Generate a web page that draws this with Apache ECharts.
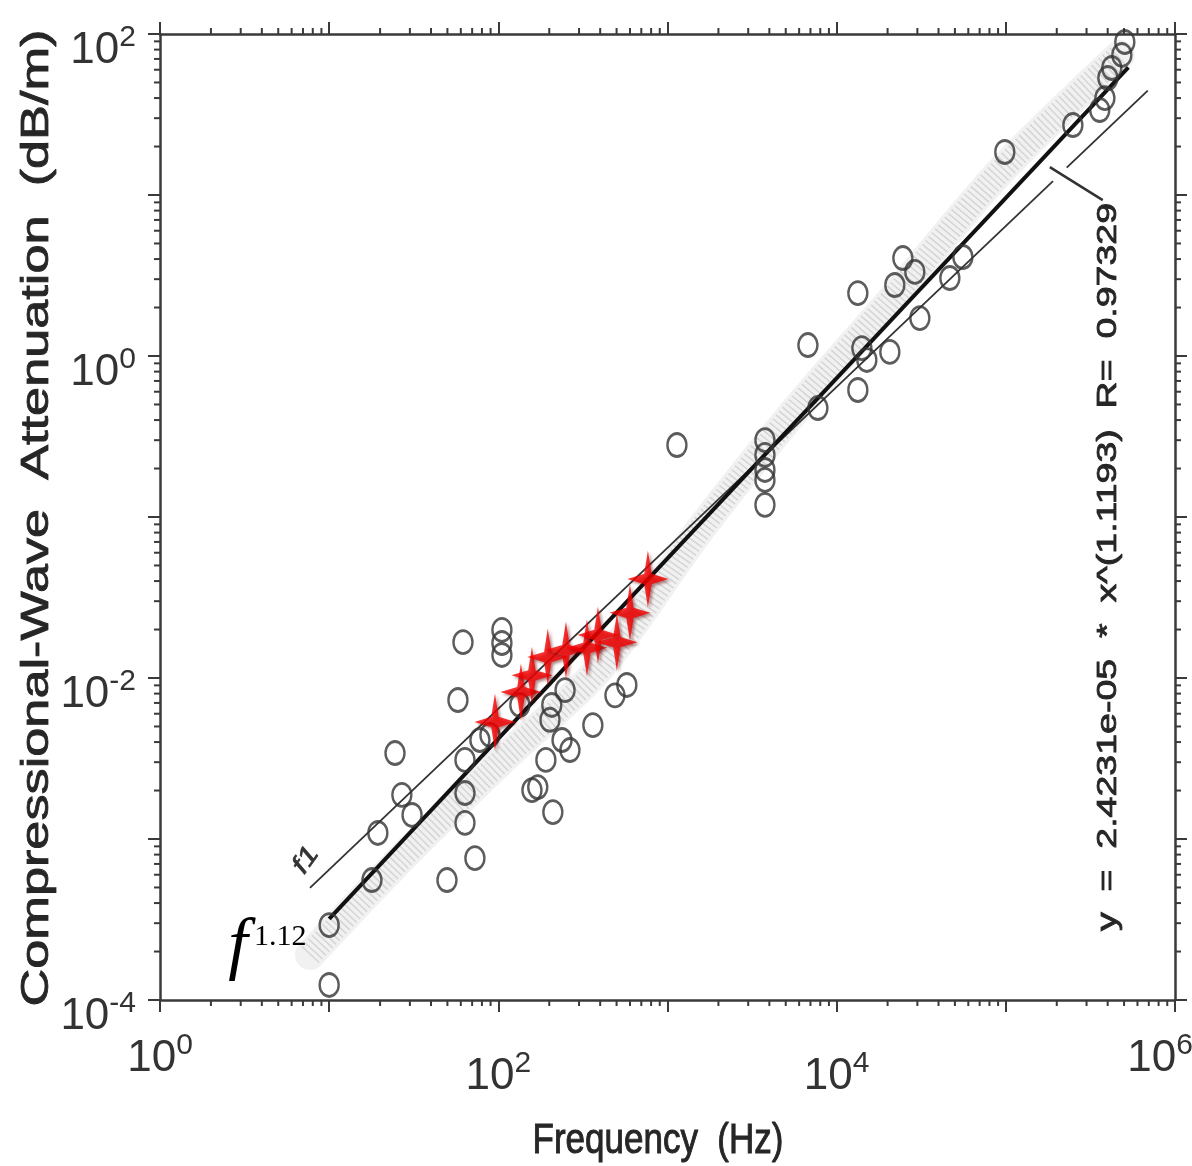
<!DOCTYPE html>
<html>
<head>
<meta charset="utf-8">
<script src="https://cdn.jsdelivr.net/npm/echarts@6/dist/echarts.min.js"></script>
<style>
html,body{margin:0;padding:0;background:#fff;}
#chart{width:1192px;height:1166px;}
</style>
</head>
<body>
<div id="chart"></div>
<script>
// ---- data ----
const circleFreq = [10, 10, 17.9, 19.4, 24.5, 26.9, 30.9, 49.7, 61.8, 57.7, 63.5, 63.5, 63.5, 72.7, 77.8, 89.2,
  105, 105, 105, 134, 158, 171, 191, 202, 207, 210, 238, 248, 265, 362, 489, 575, 1137,
  3767, 3767, 3767, 3767, 3767, 6761, 7743, 13340, 13340, 14090, 15080, 20620, 22070, 24620, 28970, 31030,
  46670, 55720, 98600, 249000, 359000, 385000, 401000, 423000, 485000, 505000];
const circleAtten = [2.92e-4, 1.24e-4, 5.56e-4, 1.09e-3, 3.42e-3, 1.88e-3, 1.41e-3, 5.56e-4, 1.67e-2, 7.3e-3, 3.1e-3, 1.93e-3, 1.26e-3, 7.6e-4, 4.12e-3, 4.43e-3,
  1.99e-2, 1.65e-2, 1.39e-2, 6.8e-3, 2.01e-3, 2.1e-3, 3.1e-3, 5.5e-3, 6.8e-3, 1.47e-3, 4.12e-3, 8.4e-3, 3.57e-3, 5.1e-3, 7.8e-3, 9.05e-3, 0.28,
  0.30, 0.243, 0.196, 0.17, 0.119, 1.17, 0.475, 2.46, 0.615, 1.12, 0.945, 1.06, 2.76, 4.06, 3.33, 1.72,
  3.05, 4.12, 18.5, 27.2, 33.7, 40, 53.3, 61.5, 74.1, 89.2];

const starFreq = [95.5, 136, 158, 196, 251, 334, 388, 502, 600, 766];
const starAtten = [5.33e-3, 8.18e-3, 1.04e-2, 1.35e-2, 1.49e-2, 1.54e-2, 1.85e-2, 1.67e-2, 2.54e-2, 4.12e-2];

// regression fit line y = 2.4231e-05 * x^1.1193 (end points)
const fitFreq = [10, 530000];
const fitAtten = [3.19e-4, 62];

// f^1 reference line (two pieces, broken at the annotation leader)
const f1FreqA = [7.7, 190000];
const f1AttenA = [4.97e-4, 12.2];
const f1FreqB = [229000, 690000];
const f1AttenB = [14.8, 44.5];

// leader line to the regression annotation
const leaderFreq = [182000, 374000];
const leaderAtten = [14.9, 9.3];

// grey model band (centre line)
const bandFreq = [7.7, 26.2, 102, 398, 1553, 6063, 23650, 92200, 472000];
const bandAtten = [1.905e-4, 7.41e-4, 3.0e-3, 0.01153, 0.083, 0.497, 2.57, 13.9, 74.1];

// axis ranges / ticks
const xMin = 1, xMax = 1e6, yMin = 1e-4, yMax = 1e2;
const xMinorTicks = [];
for (let e = 0; e < 6; e++) for (let m = 2; m <= 9; m++) xMinorTicks.push(m * Math.pow(10, e));
const yMinorTicks = [];
for (let e = -4; e < 2; e++) for (let m = 2; m <= 9; m++) yMinorTicks.push(+(m * Math.pow(10, e)).toPrecision(3));

const pairs = (a, b) => a.map((v, i) => [v, b[i]]);

const FONT = "'Liberation Sans Narrow','Liberation Sans',Arial,sans-serif";
const AX = '#3a3a3a';
const LBL = '#333';

function yLabel(v) {
  const e = Math.round(Math.log10(v));
  if (e % 2 !== 0) return '';
  return '{gy| }\n{b|10}{s|' + e + '}';
}
function xLabel(v) {
  const e = Math.round(Math.log10(v));
  if (e % 2 !== 0) return '';
  if (e === 0) return '{b|10}{s|' + e + '}';
  if (e === 6) return '{b|10}{sr|' + e + '}';
  return '{gx| }\n{b|10}{s|' + e + '}';
}
const richLab = {
  b: {fontFamily: FONT, fontSize: 44, color: LBL, verticalAlign: 'bottom', lineHeight: 50},
  s: {fontFamily: FONT, fontSize: 30, color: LBL, verticalAlign: 'top', lineHeight: 30},
  sr: {fontFamily: FONT, fontSize: 30, color: LBL, verticalAlign: 'top', lineHeight: 30, padding: [0, 30, 0, 0]},
  gx: {fontSize: 2, lineHeight: 18},
  gy: {fontSize: 2, lineHeight: 28}
};

const baseAxis = {
  type: 'log', logBase: 10,
  axisLine: {show: true, lineStyle: {color: AX, width: 2.5}},
  axisTick: {show: true, inside: false, length: 12, lineStyle: {color: AX, width: 2}},
  splitLine: {show: false},
  minorTick: {show: false}
};

const chart = echarts.init(document.getElementById('chart'), null, {renderer: 'canvas'});

const option = {
  backgroundColor: '#fff',
  animation: false,
  grid: {left: 160, right: 17, top: 34, bottom: 166, containLabel: false, outerBoundsMode: 'none'},
  xAxis: [
    Object.assign({}, baseAxis, {min: xMin, max: xMax, position: 'bottom',
      axisLabel: {formatter: xLabel, rich: richLab, margin: 31, showMinLabel: true, showMaxLabel: true, hideOverlap: false}}),
    Object.assign({}, baseAxis, {min: xMin, max: xMax, position: 'top', axisLabel: {show: false}})
  ],
  yAxis: [
    Object.assign({}, baseAxis, {min: yMin, max: yMax, position: 'left',
      axisLabel: {formatter: yLabel, rich: richLab, margin: 24, showMinLabel: true, showMaxLabel: true, hideOverlap: false}}),
    Object.assign({}, baseAxis, {min: yMin, max: yMax, position: 'right', axisLabel: {show: false}})
  ],
  series: [
    { // minor ticks on bottom and top axes
      type: 'custom', xAxisIndex: 0, yAxisIndex: 0, silent: true, z: 1, clip: false,
      data: xMinorTicks.map(v => [v, yMin]),
      renderItem: function (params, api) {
        const v = api.value(0);
        const pb = api.coord([v, yMin]);
        const pt = api.coord([v, yMax]);
        return {type: 'group', children: [
          {type: 'line', shape: {x1: pb[0], y1: pb[1], x2: pb[0], y2: pb[1] + 6}, style: {stroke: AX, lineWidth: 2}},
          {type: 'line', shape: {x1: pt[0], y1: pt[1], x2: pt[0], y2: pt[1] - 6}, style: {stroke: AX, lineWidth: 2}}
        ]};
      }
    },
    { // minor ticks on left and right axes
      type: 'custom', xAxisIndex: 0, yAxisIndex: 0, silent: true, z: 1, clip: false,
      data: yMinorTicks.map(v => [xMin, v]),
      renderItem: function (params, api) {
        const v = api.value(1);
        const pl = api.coord([xMin, v]);
        const pr = api.coord([xMax, v]);
        return {type: 'group', children: [
          {type: 'line', shape: {x1: pl[0], y1: pl[1], x2: pl[0] - 6, y2: pl[1]}, style: {stroke: AX, lineWidth: 2}},
          {type: 'line', shape: {x1: pr[0], y1: pr[1], x2: pr[0] + 6, y2: pr[1]}, style: {stroke: AX, lineWidth: 2}}
        ]};
      }
    },
    { // grey model band
      type: 'line', data: pairs(bandFreq, bandAtten), smooth: 0.3, symbol: 'none', z: 2, silent: true,
      lineStyle: {color: 'rgba(205,205,205,0.28)', width: 30, cap: 'round', join: 'round'}
    },
    {
      type: 'line', data: pairs(bandFreq, bandAtten), smooth: 0.3, symbol: 'none', z: 2, silent: true,
      lineStyle: {color: 'rgba(140,140,140,0.28)', width: 24, type: [1.5, 3.5], cap: 'butt'}
    },
    { // f^1 line
      type: 'line', data: pairs(f1FreqA, f1AttenA), symbol: 'none', z: 3, silent: true,
      lineStyle: {color: '#333', width: 1.8}
    },
    {
      type: 'line', data: pairs(f1FreqB, f1AttenB), symbol: 'none', z: 3, silent: true,
      lineStyle: {color: '#333', width: 1.8}
    },
    { // leader
      type: 'line', data: pairs(leaderFreq, leaderAtten), symbol: 'none', z: 3, silent: true,
      lineStyle: {color: '#333', width: 2.5}
    },
    { // regression fit
      type: 'line', data: pairs(fitFreq, fitAtten), symbol: 'none', z: 4, silent: true,
      lineStyle: {color: '#111', width: 4}
    },
    { // measured data circles
      type: 'scatter', data: pairs(circleFreq, circleAtten), z: 5,
      symbol: 'circle', symbolSize: [19, 23],
      itemStyle: {color: 'rgba(255,255,255,0)', borderColor: '#333', borderWidth: 2.6}
    },
    { // red stars
      type: 'scatter', data: pairs(starFreq, starAtten), z: 6,
      symbol: 'path://M50,0 L59,41 L100,50 L59,59 L50,100 L41,59 L0,50 L41,41 Z',
      symbolSize: [41, 57],
      itemStyle: {color: '#f50000', shadowColor: 'rgba(90,0,0,0.6)', shadowBlur: 3, shadowOffsetX: 2, shadowOffsetY: 2}
    }
  ],
  graphic: [
    {type: 'text', x: 37, y: 518, rotation: Math.PI / 2, scaleX: 1.34, z: 10,
      style: {text: 'Compressional-Wave  Attenuation  (dB/m)', font: "normal 39px 'Liberation Sans',Arial,sans-serif",
        fill: '#262626', stroke: '#262626', lineWidth: 0.8, align: 'center', verticalAlign: 'middle'}},
    {type: 'text', x: 658, y: 1141, scaleY: 1.2, z: 10,
      style: {text: 'Frequency  (Hz)', font: "normal 35px 'Liberation Sans',Arial,sans-serif",
        fill: '#262626', stroke: '#262626', lineWidth: 0.8, align: 'center', verticalAlign: 'middle'}},
    {type: 'text', x: 1108, y: 567, rotation: Math.PI / 2, scaleX: 1.34, z: 10,
      style: {text: 'y  =  2.4231e-05  *  x^(1.1193)  R=  0.97329', font: "normal 28px 'Liberation Sans',Arial,sans-serif",
        fill: '#262626', stroke: '#262626', lineWidth: 0.8, align: 'center', verticalAlign: 'middle'}},
    {type: 'text', x: 306, y: 860, rotation: 0.95, scaleX: 1.25, z: 10,
      style: {text: 'f1', font: "italic 26px 'Liberation Sans',Arial,sans-serif",
        fill: '#333', stroke: '#333', lineWidth: 0.6, align: 'center', verticalAlign: 'middle'}},
    {type: 'text', x: 238, y: 948, z: 10,
      style: {text: 'f', font: "italic 70px 'Liberation Serif','Times New Roman',serif", fill: '#000',
        align: 'center', verticalAlign: 'middle'}},
    {type: 'text', x: 254, y: 937, z: 10,
      style: {text: '1.12', font: "normal 30px 'Liberation Serif','Times New Roman',serif", fill: '#000',
        align: 'left', verticalAlign: 'middle'}}
  ]
};
chart.setOption(option);
</script>
</body>
</html>
